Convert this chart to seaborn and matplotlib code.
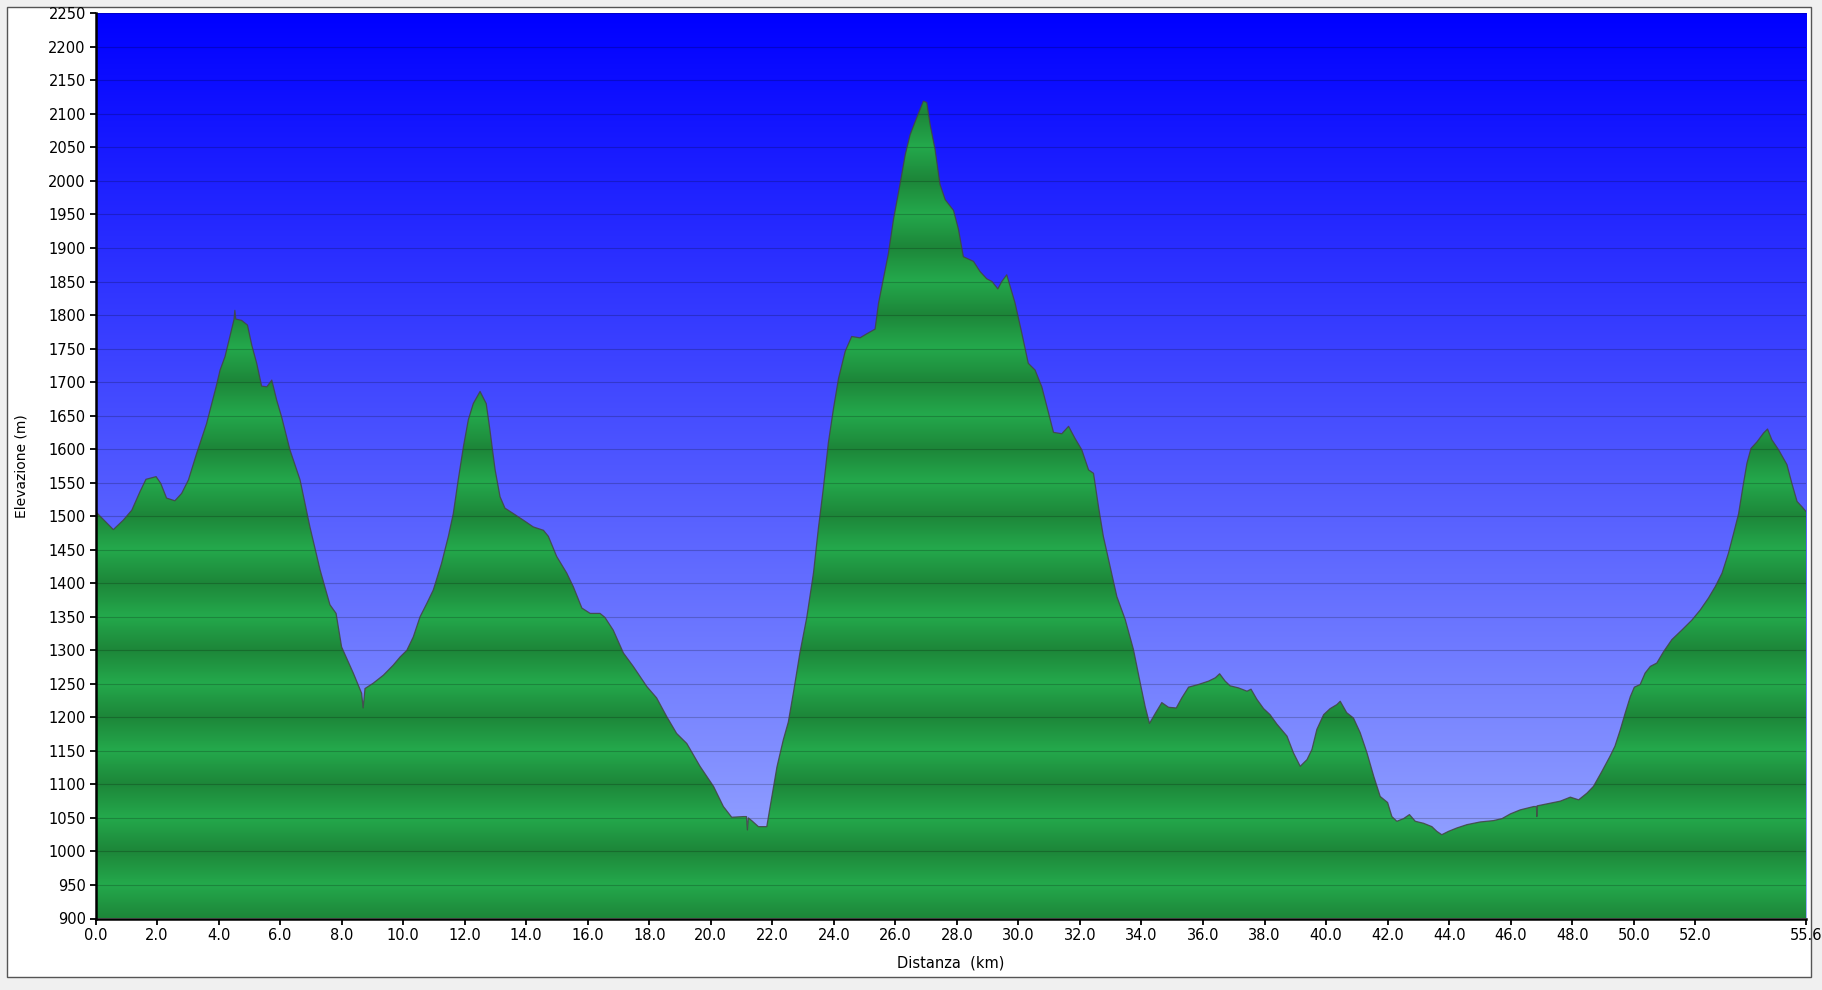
import numpy as np
import matplotlib
matplotlib.use("Agg")
import matplotlib.pyplot as plt
from matplotlib.patches import Rectangle
import pandas as pd
import seaborn as sns

# elevation profile
distance_km = [
    0.00, 0.58, 0.90, 1.18, 1.45, 1.64, 1.97, 2.12, 2.31, 2.58, 2.80, 3.02,
    3.29, 3.61, 3.92, 4.05, 4.21, 4.37, 4.50, 4.53, 4.56, 4.75, 4.94, 5.08,
    5.24, 5.40, 5.57, 5.73, 5.89, 6.05, 6.32, 6.65, 6.97, 7.30, 7.62, 7.82,
    8.00, 8.38, 8.65, 8.70, 8.76, 9.03, 9.36, 9.68, 9.90, 10.12, 10.33, 10.55,
    10.77, 10.98, 11.25, 11.47, 11.63, 11.79, 11.96, 12.12, 12.28, 12.50, 12.70, 12.82,
    12.99, 13.15, 13.31, 13.58, 13.91, 14.23, 14.56, 14.72, 14.99, 15.32, 15.53, 15.81,
    16.08, 16.40, 16.56, 16.83, 17.16, 17.48, 17.92, 18.24, 18.57, 18.89, 19.22, 19.65,
    20.09, 20.41, 20.68, 21.06, 21.16, 21.19, 21.22, 21.33, 21.55, 21.82, 21.93, 22.15,
    22.36, 22.52, 22.69, 22.90, 23.12, 23.34, 23.50, 23.66, 23.82, 23.99, 24.15, 24.37,
    24.58, 24.85, 25.07, 25.34, 25.45, 25.61, 25.77, 25.94, 26.15, 26.32, 26.48, 26.70,
    26.91, 27.02, 27.13, 27.29, 27.45, 27.62, 27.89, 28.05, 28.21, 28.54, 28.75, 28.97,
    29.14, 29.33, 29.46, 29.62, 29.89, 30.11, 30.32, 30.54, 30.76, 30.98, 31.14, 31.41,
    31.63, 31.84, 32.06, 32.28, 32.44, 32.60, 32.76, 32.98, 33.20, 33.47, 33.74, 33.96,
    34.12, 34.26, 34.45, 34.66, 34.88, 35.13, 35.31, 35.53, 35.85, 36.18, 36.40, 36.54,
    36.72, 36.88, 37.15, 37.43, 37.56, 37.75, 37.97, 38.18, 38.40, 38.73, 38.94, 39.16,
    39.38, 39.54, 39.70, 39.92, 40.13, 40.35, 40.46, 40.67, 40.89, 41.11, 41.33, 41.55,
    41.76, 42.00, 42.14, 42.30, 42.52, 42.71, 42.90, 43.17, 43.44, 43.60, 43.76, 43.98,
    44.25, 44.58, 45.01, 45.44, 45.72, 45.99, 46.31, 46.75, 46.84, 46.85, 46.86, 47.18,
    47.61, 47.94, 48.21, 48.48, 48.69, 48.96, 49.23, 49.39, 49.56, 49.72, 49.89, 50.02,
    50.21, 50.37, 50.54, 50.75, 50.97, 51.24, 51.56, 51.89, 52.16, 52.43, 52.65, 52.87,
    53.08, 53.25, 53.41, 53.55, 53.68, 53.81, 54.01, 54.22, 54.35, 54.49, 54.71, 54.98,
    55.14, 55.31, 55.47, 55.60,
]
elevation_m = [
    1507, 1480, 1494, 1509, 1537, 1555, 1559, 1549, 1527, 1523, 1534, 1554,
    1594, 1638, 1693, 1718, 1738, 1768, 1793, 1807, 1794, 1792, 1785, 1755,
    1728, 1694, 1693, 1703, 1673, 1648, 1599, 1554, 1484, 1420, 1368, 1355,
    1305, 1266, 1236, 1214, 1243, 1251, 1263, 1278, 1290, 1300, 1320, 1350,
    1370, 1390, 1430, 1470, 1504, 1554, 1604, 1644, 1668, 1686, 1668, 1629,
    1569, 1529, 1512, 1504, 1494, 1484, 1479, 1470, 1440, 1415, 1395, 1363,
    1355, 1355, 1349, 1330, 1296, 1276, 1246, 1229, 1201, 1176, 1161, 1127,
    1097, 1067, 1051, 1052, 1052, 1032, 1050, 1046, 1037, 1037, 1067, 1126,
    1167, 1193, 1238, 1297, 1349, 1416, 1483, 1542, 1609, 1661, 1705, 1746,
    1768, 1766, 1772, 1779, 1817, 1854, 1891, 1943, 1995, 2039, 2069, 2095,
    2119, 2117, 2084, 2047, 1995, 1972, 1956, 1928, 1887, 1880, 1865, 1854,
    1850, 1839, 1850, 1860, 1818, 1773, 1728, 1718, 1693, 1654, 1625, 1623,
    1634, 1616, 1599, 1569, 1564, 1515, 1470, 1425, 1380, 1346, 1301, 1251,
    1216, 1191, 1206, 1222, 1215, 1214, 1229, 1245, 1249, 1254, 1259, 1265,
    1254, 1247, 1244, 1239, 1242, 1227, 1213, 1204, 1190, 1172, 1147, 1127,
    1137, 1152, 1182, 1204, 1213, 1219, 1224, 1207, 1199, 1177, 1147, 1112,
    1082, 1073, 1052, 1045, 1049, 1055, 1045, 1042, 1037, 1030, 1025, 1030,
    1035, 1040, 1044, 1046, 1049, 1056, 1062, 1067, 1067, 1052, 1068, 1071,
    1075, 1081, 1077, 1087, 1097, 1119, 1142, 1157, 1181, 1206, 1231, 1245,
    1249, 1266, 1276, 1281, 1298, 1316, 1330, 1345, 1360, 1378, 1395, 1415,
    1445, 1475, 1504, 1544, 1579, 1601, 1611, 1624, 1630, 1614, 1599, 1577,
    1549, 1522, 1514, 1507,
]

x_ticks = [0, 2, 4, 6, 8, 10, 12, 14, 16, 18, 20, 22, 24, 26, 28, 30, 32, 34,
           36, 38, 40, 42, 44, 46, 48, 50, 52, 55.6]
y_ticks = list(range(900, 2251, 50))
y_min, y_max = 900, 2250
x_max = 55.6

sns.set_style("white")
plt.rcParams['font.family'] = ['DejaVu Sans']

df = pd.DataFrame({'Distanza': distance_km, 'Elevazione': elevation_m})

W, H = 1822, 990
fig = plt.figure(figsize=(W / 100, H / 100), dpi=100, facecolor='#f0f0f0')
# white panel with a thin frame, like the application window
fig.patches.append(Rectangle((7 / W, 1 - 977 / H), (1811 - 7) / W, (977 - 7) / H,
                             transform=fig.transFigure, facecolor='white',
                             edgecolor='#555555', lw=1, zorder=-1))

ax = fig.add_axes([95.5 / W, 1 - 918.5 / H, (1806 - 95.5) / W, (918.5 - 13.3) / H])

# sky gradient: pure blue at the top, pale periwinkle at the bottom
lev = np.linspace(y_max, y_min, 2700)[:, None]
frac = (y_max - lev) / (y_max - y_min)
sky = np.dstack([frac * 158 / 255, frac * 174 / 255, np.ones_like(frac)])
ax.imshow(sky, extent=[0, x_max, y_min, y_max], aspect='auto', zorder=0,
          interpolation='bilinear')

# green fill with soft horizontal banding, darkest on every 100 m line
t = np.abs(((lev - 900) % 100) - 50) / 50
bright = np.array([36, 169, 76]) / 255
dark = np.array([29, 134, 57]) / 255
green = bright + (dark - bright) * t[..., None]
poly = ax.fill_between(df['Distanza'], df['Elevazione'], y_min,
                       facecolor='none', edgecolor='none')
im = ax.imshow(green, extent=[0, x_max, y_min, y_max], aspect='auto', zorder=1,
               interpolation='bilinear')
im.set_clip_path(poly.get_paths()[0], transform=ax.transData)

sns.lineplot(data=df, x='Distanza', y='Elevazione', estimator=None, sort=False,
             color='#444444', lw=0.9, alpha=0.85, ax=ax, zorder=3)

ax.set_xlim(0, x_max)
ax.set_ylim(y_min, y_max)
ax.set_xticks(x_ticks)
ax.set_xticklabels([f"{v:.1f}" for v in x_ticks])
ax.set_yticks(y_ticks)
ax.yaxis.grid(True, color='black', alpha=0.2, lw=0.8)
ax.xaxis.grid(False)
ax.set_axisbelow(False)

for side in ['top', 'right']:
    ax.spines[side].set_visible(False)
for side in ['left', 'bottom']:
    ax.spines[side].set_color('black')
    ax.spines[side].set_linewidth(1.8)
    ax.spines[side].set_zorder(4)

ax.tick_params(axis='both', which='major', bottom=True, left=True, direction='out',
               length=4, width=1.3, color='black', labelsize=10.5, pad=3,
               labelcolor='black')

ax.set_xlabel('Distanza  (km)', fontsize=10.5, labelpad=9, color='black')
ax.set_ylabel('Elevazione (m)', fontsize=10, labelpad=14, color='black')

fig.savefig('out.png', dpi=100, facecolor=fig.get_facecolor())
